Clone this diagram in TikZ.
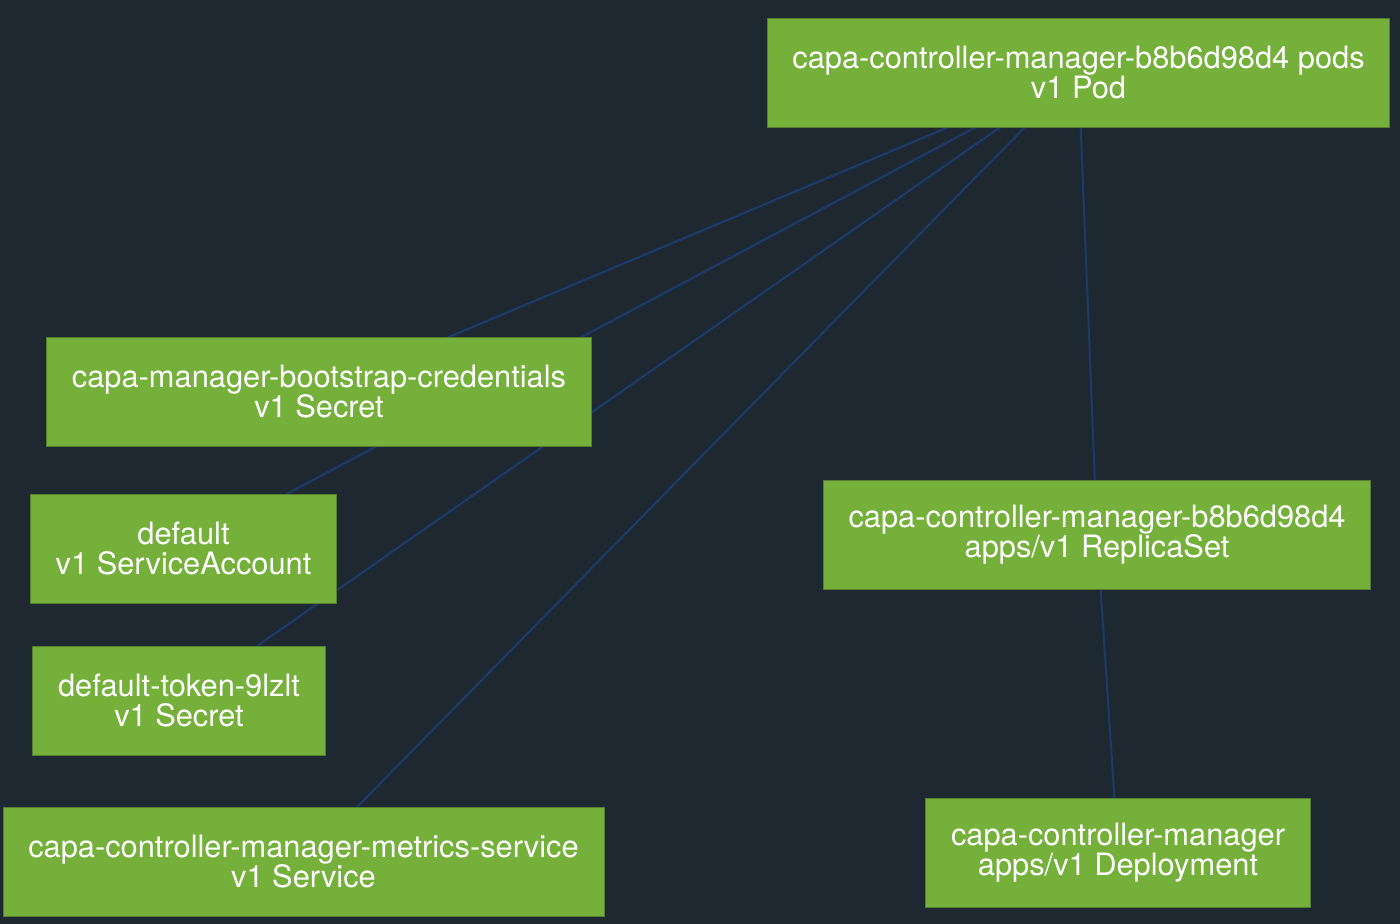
\documentclass[tikz,border=0pt]{standalone}
\usepackage{fontspec}
\setmainfont{TeX Gyre Heros}
\usetikzlibrary{
        backgrounds,
        positioning
    }
\definecolor{bgdark}{HTML}{1E2831}
\definecolor{resgreen}{HTML}{74B03A}
\definecolor{resborder}{HTML}{557F2E}
\definecolor{linkblue}{HTML}{1B3C6B}
\pgfdeclarelayer{edges}
\pgfsetlayers{background,edges,main}
\tikzset{x=0.5pt,y=-0.5pt}
\tikzset{res/.style={rectangle,fill=resgreen,draw=resborder,line width=0.4pt,
        text=white,align=center,inner xsep=12.6pt,minimum height=54.5pt,
        font=\fontsize{15.4}{15}\selectfont}}
\tikzset{link/.style={draw=linkblue,line width=1pt}}

\begin{document}
\begin{tikzpicture}[]
            \begin{pgfonlayer}{background}
                \fill[bgdark] (0,0) rectangle (1400,924);
            \end{pgfonlayer}
            \useasboundingbox (0,0) rectangle (1400,924);
            \node[res] (pod)    at (1078.5,72.5)  {capa-controller-manager-b8b6d98d4 pods\\v1 Pod};
            \node[res] (creds)  at (319,391.5)    {capa-manager-bootstrap-credentials\\v1 Secret};
            \node[res] (sa)     at (183.5,549)    {default\\v1 ServiceAccount};
            \node[res] (token)  at (179,700.5)    {default-token-9lzlt\\v1 Secret};
            \node[res] (svc)    at (303.5,861.5)  {capa-controller-manager-metrics-service\\v1 Service};
            \node[res] (rs)     at (1097,534.5)   {capa-controller-manager-b8b6d98d4\\apps/v1 ReplicaSet};
            \node[res] (deploy) at (1118,852.5)   {capa-controller-manager\\apps/v1 Deployment};
            \begin{pgfonlayer}{edges}
                \path[link]
                    (pod.center) -- (creds.center)
                    (pod.center) -- (sa.center)
                    (pod.center) -- (token.center)
                    (pod.center) -- (svc.center)
                    (pod.center) -- (rs.center)
                    (rs.center)  -- (deploy.center)
                    ;
            \end{pgfonlayer}
        \end{tikzpicture}
\end{document}
